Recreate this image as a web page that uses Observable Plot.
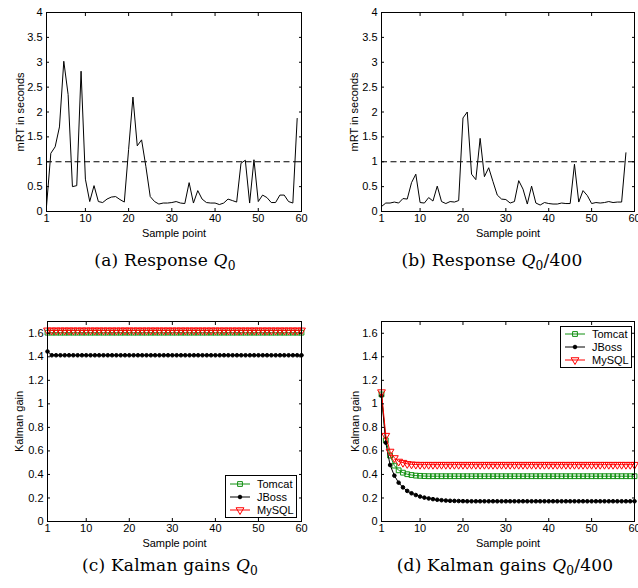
<!DOCTYPE html>
<html>
<head>
<meta charset="utf-8">
<script src="https://cdn.jsdelivr.net/npm/d3@7"></script>
<script src="https://cdn.jsdelivr.net/npm/@observablehq/plot@0.6"></script>
<style>
  html, body { margin: 0; padding: 0; background: #fff; }
  #root { position: relative; width: 638px; height: 588px; overflow: hidden; background: #fff; font-family: "Liberation Sans", Arial, sans-serif; }
  .panel { position: absolute; }
  .cap { position: absolute; font-family: "DejaVu Serif", serif; font-size: 17px; letter-spacing: 0.2px; white-space: nowrap; transform: translateX(-50%); color: #000; }
  .cap sub { font-size: 0.72em; vertical-align: -0.3em; line-height: 0; }
  .legend { position: absolute; background: #fff; border: 1px solid #000; box-sizing: border-box; }
</style>
</head>
<body>
<div id="root"></div>
<script>
// ---------- data ----------
const xTicks = [1, 10, 20, 30, 40, 50, 60];
const yTicksResponse = [0, 0.5, 1, 1.5, 2, 2.5, 3, 3.5, 4];
const yTicksGain = [0, 0.2, 0.4, 0.6, 0.8, 1, 1.2, 1.4, 1.6];
const slaThreshold = [1];

// (a) mean response time, Q0 (samples 1..59)
const responseQ0 = [0.1, 1.17, 1.3, 1.7, 3.02, 2.35, 0.5, 0.52, 2.82, 0.65,
  0.2, 0.52, 0.2, 0.18, 0.25, 0.29, 0.3, 0.24, 0.19, 1.25,
  2.3, 1.32, 1.44, 0.9, 0.3, 0.2, 0.15, 0.17, 0.17, 0.18,
  0.2, 0.17, 0.16, 0.58, 0.17, 0.42, 0.25, 0.18, 0.17, 0.17,
  0.14, 0.17, 0.25, 0.22, 0.19, 0.97, 1.03, 0.17, 1.04, 0.2,
  0.33, 0.28, 0.18, 0.18, 0.33, 0.33, 0.2, 0.17, 1.87];

// (b) mean response time, Q0/400 (samples 1..58)
const responseQ400 = [0.1, 0.17, 0.17, 0.19, 0.17, 0.26, 0.25, 0.58, 0.75, 0.18,
  0.17, 0.28, 0.21, 0.51, 0.2, 0.16, 0.2, 0.19, 0.22, 1.88,
  2.0, 0.75, 0.64, 1.47, 0.7, 0.88, 0.6, 0.33, 0.25, 0.24,
  0.17, 0.2, 0.62, 0.45, 0.15, 0.51, 0.17, 0.13, 0.18, 0.16,
  0.15, 0.15, 0.17, 0.16, 0.16, 0.95, 0.19, 0.42, 0.32, 0.16,
  0.18, 0.17, 0.18, 0.2, 0.18, 0.19, 0.19, 1.18];

// (c) Kalman gains, Q0 (samples 1..60)
const gainQ0Tomcat = [1.605, 1.605, 1.605, 1.605, 1.605, 1.605, 1.605, 1.605, 1.605, 1.605,
  1.605, 1.605, 1.605, 1.605, 1.605, 1.605, 1.605, 1.605, 1.605, 1.605,
  1.605, 1.605, 1.605, 1.605, 1.605, 1.605, 1.605, 1.605, 1.605, 1.605,
  1.605, 1.605, 1.605, 1.605, 1.605, 1.605, 1.605, 1.605, 1.605, 1.605,
  1.605, 1.605, 1.605, 1.605, 1.605, 1.605, 1.605, 1.605, 1.605, 1.605,
  1.605, 1.605, 1.605, 1.605, 1.605, 1.605, 1.605, 1.605, 1.605, 1.605];
const gainQ0JBoss = [1.445, 1.413, 1.413, 1.413, 1.413, 1.413, 1.413, 1.413, 1.413, 1.413,
  1.413, 1.413, 1.413, 1.413, 1.413, 1.413, 1.413, 1.413, 1.413, 1.413,
  1.413, 1.413, 1.413, 1.413, 1.413, 1.413, 1.413, 1.413, 1.413, 1.413,
  1.413, 1.413, 1.413, 1.413, 1.413, 1.413, 1.413, 1.413, 1.413, 1.413,
  1.413, 1.413, 1.413, 1.413, 1.413, 1.413, 1.413, 1.413, 1.413, 1.413,
  1.413, 1.413, 1.413, 1.413, 1.413, 1.413, 1.413, 1.413, 1.413, 1.413];
const gainQ0MySQL = [1.625, 1.625, 1.625, 1.625, 1.625, 1.625, 1.625, 1.625, 1.625, 1.625,
  1.625, 1.625, 1.625, 1.625, 1.625, 1.625, 1.625, 1.625, 1.625, 1.625,
  1.625, 1.625, 1.625, 1.625, 1.625, 1.625, 1.625, 1.625, 1.625, 1.625,
  1.625, 1.625, 1.625, 1.625, 1.625, 1.625, 1.625, 1.625, 1.625, 1.625,
  1.625, 1.625, 1.625, 1.625, 1.625, 1.625, 1.625, 1.625, 1.625, 1.625,
  1.625, 1.625, 1.625, 1.625, 1.625, 1.625, 1.625, 1.625, 1.625, 1.625];

// (d) Kalman gains, Q0/400 (samples 1..60)
const gainQ400Tomcat = [1.08, 0.69, 0.56, 0.475, 0.435, 0.415, 0.402, 0.395, 0.39, 0.388,
  0.386, 0.385, 0.385, 0.385, 0.385, 0.385, 0.385, 0.385, 0.385, 0.385,
  0.385, 0.385, 0.385, 0.385, 0.385, 0.385, 0.385, 0.385, 0.385, 0.385,
  0.385, 0.385, 0.385, 0.385, 0.385, 0.385, 0.385, 0.385, 0.385, 0.385,
  0.385, 0.385, 0.385, 0.385, 0.385, 0.385, 0.385, 0.385, 0.385, 0.385,
  0.385, 0.385, 0.385, 0.385, 0.385, 0.385, 0.385, 0.385, 0.385, 0.385];
const gainQ400JBoss = [1.07, 0.67, 0.48, 0.39, 0.33, 0.29, 0.26, 0.24, 0.225, 0.212,
  0.203, 0.196, 0.19, 0.185, 0.181, 0.178, 0.176, 0.175, 0.174, 0.173,
  0.172, 0.172, 0.172, 0.172, 0.172, 0.172, 0.172, 0.172, 0.172, 0.172,
  0.172, 0.172, 0.172, 0.172, 0.172, 0.172, 0.172, 0.172, 0.172, 0.172,
  0.172, 0.172, 0.172, 0.172, 0.172, 0.172, 0.172, 0.172, 0.172, 0.172,
  0.172, 0.172, 0.172, 0.172, 0.172, 0.172, 0.172, 0.172, 0.172, 0.172];
const gainQ400MySQL = [1.1, 0.73, 0.595, 0.54, 0.51, 0.5, 0.49, 0.486, 0.484, 0.483,
  0.483, 0.483, 0.483, 0.483, 0.483, 0.483, 0.483, 0.483, 0.483, 0.483,
  0.483, 0.483, 0.483, 0.483, 0.483, 0.483, 0.483, 0.483, 0.483, 0.483,
  0.483, 0.483, 0.483, 0.483, 0.483, 0.483, 0.483, 0.483, 0.483, 0.483,
  0.483, 0.483, 0.483, 0.483, 0.483, 0.483, 0.483, 0.483, 0.483, 0.483,
  0.483, 0.483, 0.483, 0.483, 0.483, 0.483, 0.483, 0.483, 0.483, 0.483];

const seriesNames = ["Tomcat", "JBoss", "MySQL"];
const seriesColors = ["#119011", "#000000", "#ff0000"];

// ---------- helpers ----------
const triangleDown = {
  draw(context, size) {
    const s3 = Math.sqrt(3);
    const y = -Math.sqrt(size / (s3 * 3));
    context.moveTo(0, -y * 2);
    context.lineTo(-s3 * y, y);
    context.lineTo(s3 * y, y);
    context.closePath();
  }
};
const seriesSymbols = ["square", "circle", triangleDown];
const seriesFills = ["none", "#000000", "none"];
const seriesR = [2.7, 1.8, 2.9];
const fmt = d => `${d}`;
const xOf = (d, i) => i + 1;
const yOf = d => d;

const root = document.getElementById("root");

function panel({left, top, width, height, mt, mb, ml, mr, yDomain, yTicks, ylabel, ylo, marks}) {
  const chart = Plot.plot({
    width, height,
    marginTop: mt, marginBottom: mb, marginLeft: ml, marginRight: mr,
    style: {fontFamily: '"Liberation Sans", Arial, sans-serif', fontSize: "11px", fontWeight: "normal", overflow: "visible", background: "transparent", color: "#000"},
    x: {type: "linear", domain: [1, 60]},
    y: {type: "linear", domain: yDomain},
    marks: [
      ...marks,
      Plot.frame({stroke: "#000", strokeWidth: 1}),
      Plot.axisX(xTicks, {anchor: "bottom", tickSize: -3, tickPadding: 6, tickFormat: fmt, label: "Sample point", labelAnchor: "center", labelArrow: "none", labelOffset: 25}),
      Plot.axisX(xTicks, {anchor: "top", tickSize: -3, text: null, label: null}),
      Plot.axisY(yTicks, {anchor: "left", tickSize: -3, tickPadding: 7, tickFormat: fmt, label: ylabel, labelAnchor: "center", labelArrow: "none", labelOffset: ylo}),
      Plot.axisY(yTicks, {anchor: "right", tickSize: -3, text: null, label: null})
    ]
  });
  chart.classList.add("panel");
  chart.style.left = left + "px";
  chart.style.top = top + "px";
  root.appendChild(chart);
}

function responseMarks(values) {
  return [
    Plot.ruleY(slaThreshold, {stroke: "#000", strokeWidth: 1, strokeDasharray: "6,3.5"}),
    Plot.lineY(values, {x: xOf, y: yOf, stroke: "#000", strokeWidth: 1})
  ];
}

function gainMarks(series) {
  const marks = [];
  series.forEach((vals, k) => {
    marks.push(Plot.lineY(vals, {x: xOf, y: yOf, stroke: seriesColors[k], strokeWidth: 1}));
    marks.push(Plot.dot(vals, {x: xOf, y: yOf, symbol: seriesSymbols[k], r: seriesR[k], stroke: seriesColors[k], fill: seriesFills[k], strokeWidth: 1}));
  });
  return marks;
}

function legend(left, top, w, h, rowY, textX) {
  const div = document.createElement("div");
  div.className = "legend";
  div.style.left = left + "px";
  div.style.top = top + "px";
  div.style.width = w + "px";
  div.style.height = h + "px";
  const svg = d3.create("svg").attr("width", w - 2).attr("height", h - 2).style("display", "block");
  seriesNames.forEach((name, k) => {
    const y = rowY[k];
    svg.append("line").attr("x1", 4).attr("x2", 24).attr("y1", y).attr("y2", y)
      .attr("stroke", seriesColors[k]).attr("stroke-width", 1);
    const sym = typeof seriesSymbols[k] === "string"
      ? (seriesSymbols[k] === "square" ? d3.symbolSquare : d3.symbolCircle)
      : seriesSymbols[k];
    svg.append("path").attr("d", d3.symbol(sym, Math.PI * seriesR[k] * seriesR[k])())
      .attr("transform", `translate(14,${y})`)
      .attr("stroke", seriesColors[k]).attr("fill", seriesFills[k]).attr("stroke-width", 1);
    svg.append("text").attr("x", textX).attr("y", y).attr("dy", "0.35em")
      .attr("font-size", 11).attr("font-family", '"Liberation Sans", Arial, sans-serif')
      .text(name);
  });
  div.appendChild(svg.node());
  root.appendChild(div);
}

function caption(html, cx, top) {
  const d = document.createElement("div");
  d.className = "cap";
  d.style.left = cx + "px";
  d.style.top = top + "px";
  d.innerHTML = html;
  root.appendChild(d);
}

// ---------- panels ----------
panel({left: 0, top: 0, width: 319, height: 240, mt: 12, mb: 29, ml: 46, mr: 18,
  yDomain: [0, 4], yTicks: yTicksResponse, ylabel: "mRT in seconds", ylo: 30, marks: responseMarks(responseQ0)});
panel({left: 319, top: 0, width: 319, height: 240, mt: 12, mb: 29, ml: 62, mr: 4,
  yDomain: [0, 4], yTicks: yTicksResponse, ylabel: "mRT in seconds", ylo: 31, marks: responseMarks(responseQ400)});
panel({left: 0, top: 310, width: 319, height: 240, mt: 11, mb: 29, ml: 47, mr: 18,
  yDomain: [0, 1.7], yTicks: yTicksGain, ylabel: "Kalman gain", ylo: 32,
  marks: gainMarks([gainQ0Tomcat, gainQ0JBoss, gainQ0MySQL])});
panel({left: 319, top: 310, width: 319, height: 240, mt: 11, mb: 29, ml: 62, mr: 4,
  yDomain: [0, 1.7], yTicks: yTicksGain, ylabel: "Kalman gain", ylo: 30,
  marks: gainMarks([gainQ400Tomcat, gainQ400JBoss, gainQ400MySQL])});

legend(225, 475, 72, 43, [8, 21, 34], 31);
legend(560, 326, 72, 42, [7, 20, 33], 31);

caption('(a) Response <i>Q</i><sub>0</sub>', 165, 250);
caption('(b) Response <i>Q</i><sub>0</sub>/400', 492, 250);
caption('(c) Kalman gains <i>Q</i><sub>0</sub>', 170, 555);
caption('(d) Kalman gains <i>Q</i><sub>0</sub>/400', 505, 555);
</script>
</body>
</html>
